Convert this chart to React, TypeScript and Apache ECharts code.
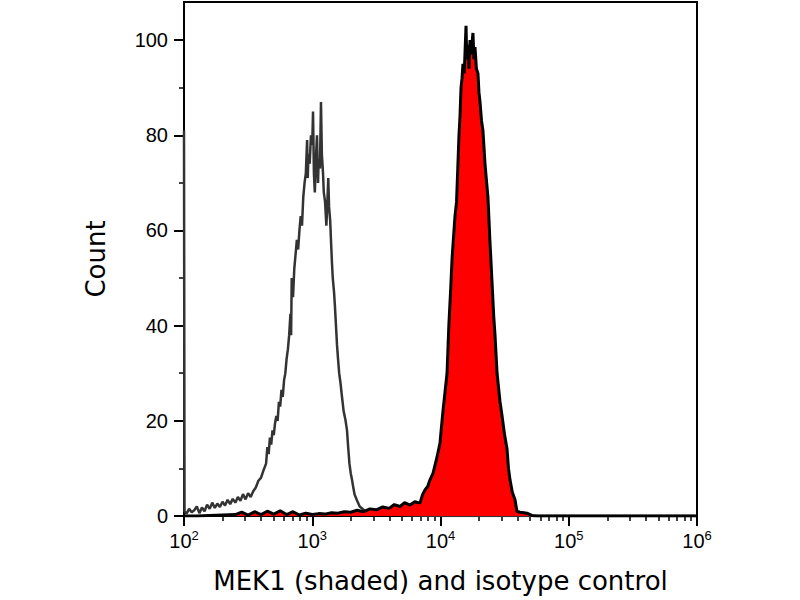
import React, { useEffect, useRef } from "react";
import * as echarts from "echarts";

// x values are log10(fluorescence intensity)
const isoX = [
  2.0, 2.004, 2.02, 2.04, 2.06, 2.08, 2.1, 2.12, 2.14, 2.16, 2.18, 2.2, 2.22, 2.24, 2.26, 2.28, 2.3,
  2.32, 2.34, 2.36, 2.38, 2.4, 2.42, 2.44, 2.46, 2.48, 2.5, 2.52, 2.54, 2.56, 2.58, 2.6, 2.62, 2.64,
  2.65, 2.66, 2.67, 2.68, 2.69, 2.7, 2.71, 2.72, 2.73, 2.74, 2.75, 2.76, 2.77, 2.78, 2.79, 2.8, 2.81,
  2.82, 2.83, 2.835, 2.84, 2.85, 2.86, 2.87, 2.88, 2.89, 2.9, 2.91, 2.92, 2.93, 2.94, 2.95, 2.96,
  2.965, 2.97, 2.98, 2.99, 3.0, 3.006, 3.013, 3.02, 3.03, 3.037, 3.045, 3.05, 3.06, 3.068, 3.075,
  3.084, 3.09, 3.1, 3.11, 3.115, 3.125, 3.131, 3.14, 3.146, 3.154, 3.16, 3.17, 3.177, 3.185, 3.193,
  3.201, 3.21, 3.22, 3.232, 3.245, 3.26, 3.271, 3.28, 3.29, 3.3, 3.31, 3.32, 3.33, 3.35, 3.37, 3.4,
  3.42, 3.45, 3.5, 3.55, 3.6, 3.7, 3.8, 4.0, 6.0,
];
const isoY = [
  81, 1, 0.5, 1.5, 0.8, 1.2, 2, 0.6, 1.8, 1.0, 2.4, 1.5, 2.8, 1.7, 2.6, 1.9, 3.0,
  2.2, 3.4, 2.5, 3.6, 2.8, 4.0, 3.2, 4.6, 3.5, 4.8, 4.0, 5.2, 6.0, 7.4, 8.0, 9.6, 11.0,
  14.5, 13.0, 16.5, 15.0, 18.0, 17.0, 19.5, 21.0, 20.0, 24.0, 23.0, 26.5, 25.0, 28.5, 30.0, 33.0, 35.0,
  38.0, 42.5, 38, 50, 46, 52, 55, 58, 56, 60, 63, 61, 67, 70, 72, 79,
  71, 76, 74, 80, 78, 85, 72, 68, 76, 80, 70, 75, 73, 87, 76,
  72, 68, 66, 61, 64, 71, 65, 62, 58, 53, 50, 47, 44, 40, 36,
  33, 30, 28, 25, 22, 20, 18, 14.5, 11, 9, 7.6, 6, 4.5, 3.2, 2, 1.3,
  1.0, 0.6, 0.5, 0.4, 0.3, 0.2, 0.1, 0, 0,
];

const mekX = [
  2.0, 2.1, 2.4, 2.45, 2.5, 2.55, 2.6, 2.65, 2.7, 2.75, 2.8, 2.85, 2.9, 2.95, 3.0, 3.05, 3.1, 3.15,
  3.2, 3.25, 3.3, 3.35, 3.4, 3.45, 3.5, 3.55, 3.6, 3.64, 3.684, 3.72, 3.762, 3.8, 3.84, 3.86, 3.879,
  3.9, 3.918, 3.942, 3.96, 3.973, 3.996, 4.005, 4.019, 4.035, 4.051, 4.065, 4.08, 4.09, 4.1, 4.113,
  4.125, 4.136, 4.144, 4.152, 4.16, 4.168, 4.175, 4.185, 4.192, 4.199, 4.205, 4.214, 4.222, 4.23,
  4.238, 4.245, 4.253, 4.261, 4.269, 4.28, 4.292, 4.3, 4.308, 4.32, 4.331, 4.347, 4.36, 4.37, 4.385,
  4.402, 4.415, 4.425, 4.441, 4.464, 4.48, 4.5, 4.519, 4.53, 4.542, 4.56, 4.581, 4.596, 4.62, 4.65,
  4.674, 4.7, 4.713, 4.75, 6.0,
];
const mekY = [
  0, 0, 0.3, 0.8, 0.2, 0.9, 0.3, 1.0, 0.4, 1.1, 0.3, 0.9, 0.2, 0.6, 0.3, 0.5, 0.4, 0.7,
  0.6, 0.9, 0.8, 1.2, 0.9, 1.5, 1.3, 1.9, 1.6, 2.4, 2.0, 2.8, 2.3, 3.0, 2.7, 4.5, 5.5,
  6.2, 7.6, 9.0, 11, 12.4, 15.3, 18, 22, 26, 30, 40, 48, 54, 58, 63,
  66, 74, 80, 84, 90, 92, 95, 93, 98, 103, 96, 99, 94, 100,
  97, 99, 101.5, 96, 98.5, 94, 93, 89, 87, 83, 81, 74, 70, 67, 58,
  49, 42, 38, 30, 24, 21, 17, 14, 10, 7.6, 5, 3.4, 1.0, 0.8, 0.7,
  0.6, 0.3, 0.1, 0, 0,
];

const yMajorTicks = [0, 20, 40, 60, 80, 100];
const yMinorTicks = [10, 30, 50, 70, 90];
const xMajorExponents = [2, 3, 4, 5, 6];
const xMinorRaw = [
  200, 300, 400, 500, 600, 700, 800, 900,
  2000, 3000, 4000, 5000, 6000, 7000, 8000, 9000,
  20000, 30000, 40000, 50000, 60000, 70000, 80000, 90000,
  200000, 300000, 400000, 500000, 600000, 700000, 800000, 900000,
];

const xTitle = "MEK1 (shaded) and isotype control";
const yTitle = "Count";

export default function App() {
  const ref = useRef<HTMLDivElement>(null);
  useEffect(() => {
    if (!ref.current) return;
    const chart = echarts.init(ref.current, undefined, { renderer: "svg" });
    const isoData = isoX.map((x, i) => [x, isoY[i]]);
    const mekData = mekX.map((x, i) => [x, mekY[i]]);
    const xMinor = xMinorRaw.map((v) => Math.log10(v));
    const font = "DejaVu Sans";
    const tickFont = "Liberation Sans";
    chart.setOption({
      animation: false,
      backgroundColor: "#fff",
      grid: {
        left: 184,
        right: 103,
        top: 2,
        bottom: 84,
        show: true,
        borderColor: "#000",
        borderWidth: 2,
        backgroundColor: "transparent",
      },
      xAxis: [
        {
          type: "value",
          position: "bottom",
          min: 2,
          max: 6,
          interval: 1,
          name: xTitle,
          nameLocation: "middle",
          nameGap: 52,
          nameTextStyle: { fontFamily: font, fontSize: 26, color: "#000" },
          axisLine: { show: true, onZero: false, lineStyle: { color: "#000", width: 2 } },
          axisTick: { show: true, length: 10, lineStyle: { color: "#000", width: 2 }, customValues: xMajorExponents },
          axisLabel: {
            margin: 13,
            customValues: xMajorExponents,
            formatter: (v: number) => `{a|10}{b|${Math.round(v)}}`,
            rich: {
              a: { fontFamily: tickFont, fontSize: 20, color: "#000", lineHeight: 22, verticalAlign: "bottom" },
              b: { fontFamily: tickFont, fontSize: 13, color: "#000", lineHeight: 22, verticalAlign: "top", padding: [0, 0, 7, 0] },
            },
          },
          splitLine: { show: false },
        },
        {
          type: "value",
          position: "bottom",
          min: 2,
          max: 6,
          axisLine: { show: false, onZero: false },
          axisTick: { show: true, length: 5, lineStyle: { color: "#000", width: 1.5 }, customValues: xMinor },
          axisLabel: { show: false },
          splitLine: { show: false },
        },
      ],
      yAxis: [
        {
          type: "value",
          position: "left",
          min: 0,
          max: 108,
          interval: 20,
          name: yTitle,
          nameLocation: "middle",
          nameGap: 75,
          nameTextStyle: { fontFamily: font, fontSize: 26, color: "#000" },
          axisLine: { show: true, onZero: false, lineStyle: { color: "#000", width: 2 } },
          axisTick: { show: true, length: 10, lineStyle: { color: "#000", width: 2 }, customValues: yMajorTicks },
          axisLabel: {
            margin: 16,
            customValues: yMajorTicks,
            fontFamily: tickFont,
            fontSize: 20,
            color: "#000",
          },
          splitLine: { show: false },
        },
        {
          type: "value",
          position: "left",
          min: 0,
          max: 108,
          axisLine: { show: false, onZero: false },
          axisTick: { show: true, length: 5, lineStyle: { color: "#000", width: 1.5 }, customValues: yMinorTicks },
          axisLabel: { show: false },
          splitLine: { show: false },
        },
      ],
      series: [
        {
          type: "line",
          name: "isotype control",
          data: isoData,
          xAxisIndex: 0,
          yAxisIndex: 0,
          showSymbol: false,
          symbol: "none",
          lineStyle: { color: "#333", width: 2.5 },
          z: 2,
        },
        {
          type: "line",
          name: "MEK1",
          data: mekData,
          xAxisIndex: 0,
          yAxisIndex: 0,
          showSymbol: false,
          symbol: "none",
          lineStyle: { color: "#000", width: 3 },
          areaStyle: { color: "#ff0000", opacity: 1 },
          z: 3,
        },
      ],
    });
    return () => chart.dispose();
  }, []);
  return <div ref={ref} style={{ width: 800, height: 600, position: "absolute", left: 0, top: 0 }} />;
}
